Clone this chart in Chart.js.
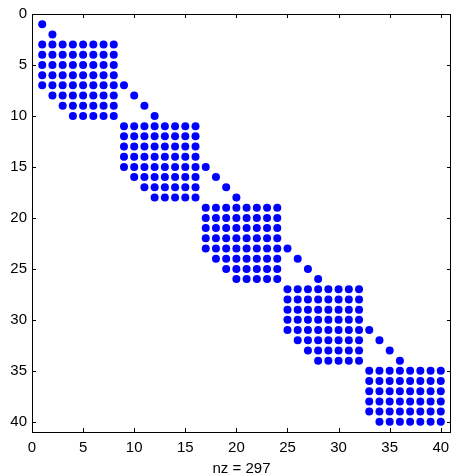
<!DOCTYPE html>
<html>
<head>
<meta charset="utf-8">
<script src="https://cdn.jsdelivr.net/npm/chart.js@4/dist/chart.umd.min.js"></script>
<style>
html,body{margin:0;padding:0;background:#fff;}
#wrap{width:451px;height:473px;position:relative;}
</style>
</head>
<body>
<div id="wrap"><canvas id="c" width="451" height="473"></canvas></div>
<script>
// Row-wise sparsity pattern (rows 1..40)
const rowIds   = [1,2,3,4,5,6,7,8,9,10,11,12,13,14,15,16,17,18,19,20,21,22,23,24,25,26,27,28,29,30,31,32,33,34,35,36,37,38,39,40];
const segStart = [1,2,1,1,1,1,1,2,3,4, 9,9,9,9,9,10,11,12, 17,17,17,17,17,18,19,20, 25,25,25,25,25,26,27,28, 33,33,33,33,33,34];
const segEnd   = [1,2,8,8,8,8,8,8,8,8, 16,16,16,16,16,16,16,16, 24,24,24,24,24,24,24,24, 32,32,32,32,32,32,32,32, 40,40,40,40,40,40];
const extraCol = [null,null,null,null,null,null,9,10,11,12, null,null,null,null,17,18,19,20, null,null,null,null,25,26,27,28, null,null,null,null,33,34,35,36, null,null,null,null,null,null];
const xTicks = [0,5,10,15,20,25,30,35,40];
const yTicks = [0,5,10,15,20,25,30,35,40];
const xLabel = 'nz = 297';

const pts = [];
rowIds.forEach((r, i) => {
  for (let c = segStart[i]; c <= segEnd[i]; c++) pts.push({x: c, y: r});
  if (extraCol[i] !== null) pts.push({x: extraCol[i], y: r});
});

const FONT = {family: 'Liberation Sans, Arial, sans-serif', size: 15};

const frame = {
  id: 'frame',
  afterDraw(chart) {
    const {ctx, chartArea: a, scales: {x, y}} = chart;
    ctx.save();
    ctx.strokeStyle = '#000';
    ctx.lineWidth = 1;
    ctx.beginPath();
    ctx.moveTo(a.left, a.top + 0.5); ctx.lineTo(a.right, a.top + 0.5);
    ctx.moveTo(a.right - 0.5, a.top); ctx.lineTo(a.right - 0.5, a.bottom);
    const L = 4;
    x.ticks.forEach(t => {
      const px = Math.round(x.getPixelForValue(t.value)) + 0.5;
      ctx.moveTo(px, a.bottom); ctx.lineTo(px, a.bottom - L);
      ctx.moveTo(px, a.top); ctx.lineTo(px, a.top + L);
    });
    y.ticks.forEach(t => {
      const py = Math.round(y.getPixelForValue(t.value)) + 0.5;
      ctx.moveTo(a.left, py); ctx.lineTo(a.left + L, py);
      ctx.moveTo(a.right, py); ctx.lineTo(a.right - L, py);
    });
    ctx.stroke();
    ctx.restore();
  }
};

new Chart(document.getElementById('c'), {
  type: 'scatter',
  data: {
    datasets: [{
      data: pts,
      backgroundColor: '#0000ff',
      borderColor: '#0000ff',
      pointStyle: 'circle',
      pointRadius: 4,
      pointBorderWidth: 0,
      pointHoverRadius: 4
    }]
  },
  options: {
    responsive: false,
    animation: false,
    events: [],
    layout: {autoPadding: false, padding: {top: 14, right: -1, left: 0, bottom: 0}},
    plugins: {legend: {display: false}, tooltip: {enabled: false}},
    scales: {
      x: {
        type: 'linear', min: 0, max: 41,
        afterBuildTicks: s => { s.ticks = xTicks.map(v => ({value: v})); },
        afterFit: s => { s.height = 41; s.paddingLeft = 0; s.paddingRight = 0; },
        grid: {display: true, drawOnChartArea: false, drawTicks: false},
        border: {display: true, color: '#000', width: 1},
        ticks: {color: '#000', font: FONT, padding: 7, maxRotation: 0, autoSkip: false},
        title: {display: true, text: xLabel, color: '#000', font: FONT, padding: {top: 0, bottom: -5}}
      },
      y: {
        type: 'linear', min: 0, max: 41, reverse: true,
        afterBuildTicks: s => { s.ticks = yTicks.map(v => ({value: v})); },
        afterFit: s => { s.width = 32; s.paddingTop = 0; s.paddingBottom = 0; },
        grid: {display: true, drawOnChartArea: false, drawTicks: false},
        border: {display: true, color: '#000', width: 1},
        ticks: {color: '#000', font: FONT, padding: 5, autoSkip: false}
      }
    }
  },
  plugins: [frame]
});
</script>
</body>
</html>
